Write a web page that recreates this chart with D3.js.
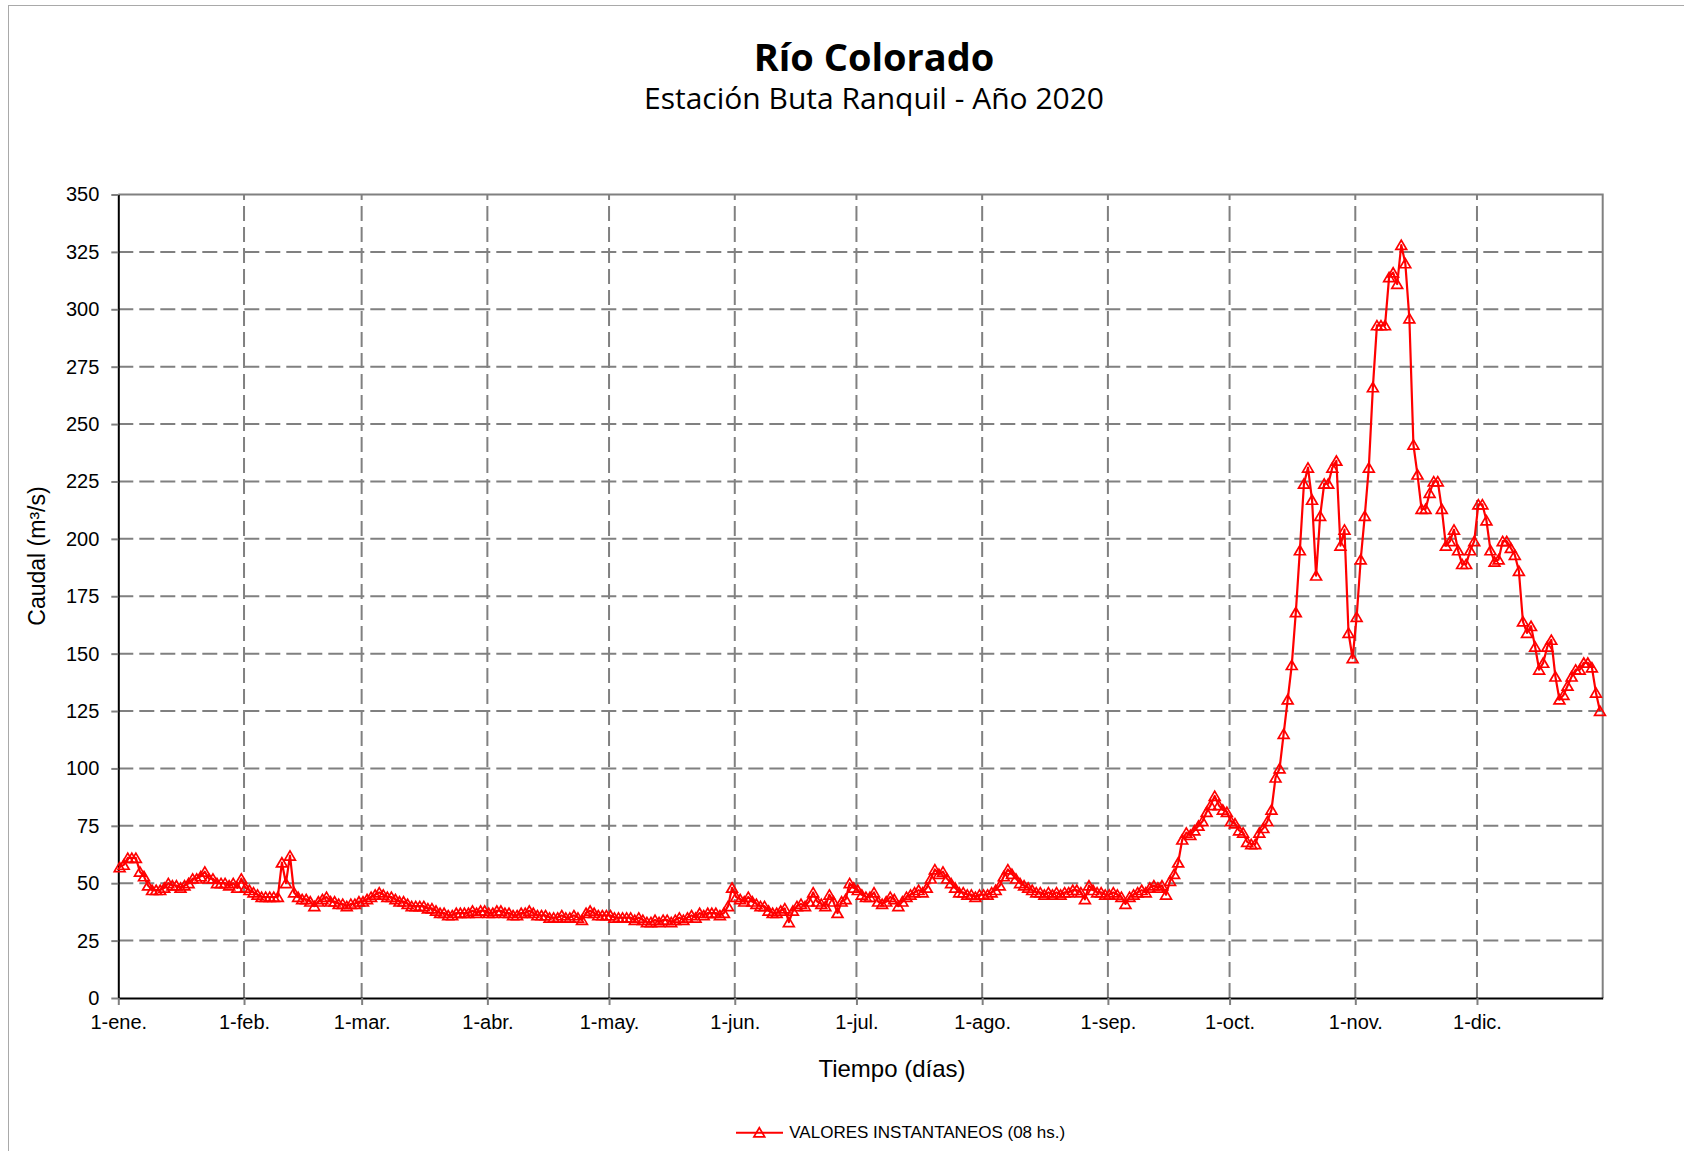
<!DOCTYPE html>
<html><head><meta charset="utf-8">
<script src="https://cdn.jsdelivr.net/npm/d3@7"></script>
<style>
html,body{margin:0;padding:0;background:#fff;}
svg{display:block;}
</style></head><body>
<svg id="chart" width="1684" height="1151"></svg>
<script>
// ---------- data ----------
const chartTitle = "Río Colorado";
const chartSubtitle = "Estación Buta Ranquil - Año 2020";
const xTitle = "Tiempo (días)";
const yTitle = "Caudal (m³/s)";
const seriesName = "VALORES INSTANTANEOS (08 hs.)";
const yTicks = [0,25,50,75,100,125,150,175,200,225,250,275,300,325,350];
const monthLabels = ["1-ene.","1-feb.","1-mar.","1-abr.","1-may.","1-jun.","1-jul.","1-ago.","1-sep.","1-oct.","1-nov.","1-dic."];

// daily values (m3/s) per month, 2020
const ene = [57,58,61,61,61,55,53,49,47,47,47,48,50,49,49,48,49,50,52,52,53,55,52,52,50,50,50,49,50,48,52];
const feb = [48,47,46,45,44,44,44,44,44,59,50,62,46,44,43,43,42,40,42,43,44,42,42,41,41,40,41,41,42];
const mar = [42,43,44,45,46,45,44,44,43,42,42,41,40,40,40,40,39,39,38,37,37,36,36,37,37,37,37,38,37,38,38];
const abr = [37,37,38,38,37,37,36,36,37,37,38,37,36,36,36,35,35,35,36,35,35,36,35,34,37,38,37,36,36,36];
const may = [36,35,35,35,35,35,34,35,34,33,33,34,33,34,34,33,34,35,34,35,36,35,37,36,37,37,37,36,37,40,48];
const jun = [44,43,42,44,42,41,40,40,38,37,37,38,39,33,38,40,41,40,42,46,42,41,40,45,42,37,42,43,50,48];
const jul = [47,45,44,44,46,42,41,42,44,43,40,42,44,45,46,47,46,48,52,56,54,55,52,50,48,46,46,45,45,44,45];
const ago = [45,45,46,47,49,53,56,54,52,50,49,48,47,46,46,45,46,45,46,45,46,46,47,47,46,43,49,47,46,46,45];
const sep = [45,46,45,44,41,44,45,46,47,46,48,49,48,49,45,51,54,59,69,72,71,73,75,77,81,84,88,84,82,81];
const oct = [77,76,73,72,68,67,67,72,74,77,82,96,100,115,130,145,168,195,224,231,217,184,210,224,224,231,234,197,204,159,148];
const nov = [166,191,210,231,266,293,293,293,314,316,311,328,320,296,241,228,213,213,220,225,225,213,197,199,204,195,189,189,195,199];
const dic = [215,215,208,195,190,191,199,199,196,193,186,164,159,162,153,143,146,153,156,140,130,132,136,140,143,143,146,146,144,133,125];

// ---------- chart ----------
const svg = d3.select("#chart");
const FONT = "'Liberation Sans', Arial, sans-serif";
const TFONT = "'Open Sans', sans-serif";
const RED = "#ff0000", GRID = "#808080";

svg.append("rect").attr("x",8.5).attr("y",5.5).attr("width",1700).attr("height",1200)
  .attr("fill","none").attr("stroke","#a9a9a9").attr("stroke-width",1);

const values = [].concat(ene,feb,mar,abr,may,jun,jul,ago,sep,oct,nov,dic);
const data = values.map((v,i)=>({date:new Date(Date.UTC(2020,0,1+i,8)), v}));

const x = d3.scaleUtc().domain([new Date(Date.UTC(2020,0,1)), new Date(Date.UTC(2021,0,1))]).range([118.3,1602.7]);
const y = d3.scaleLinear().domain([0,350]).range([998,194.5]);
const monthTicks = d3.utcMonth.range(new Date(Date.UTC(2020,0,1)), new Date(Date.UTC(2021,0,1)));

const [x0,x1] = x.range(), [y0,y1] = y.range();

// grid
const grid = svg.append("g");
grid.selectAll("line.h").data(yTicks.filter(t=>t>0 && t<350)).join("line")
  .attr("x1",x0).attr("x2",x1).attr("y1",d=>y(d)).attr("y2",d=>y(d))
  .attr("stroke",GRID).attr("stroke-width",2).attr("stroke-dasharray","15,6");
grid.selectAll("line.v").data(monthTicks.slice(1)).join("line")
  .attr("y1",y0).attr("y2",y1).attr("x1",d=>x(d)).attr("x2",d=>x(d))
  .attr("stroke",GRID).attr("stroke-width",2).attr("stroke-dasharray","15,6");
// plot border top/right
svg.append("path").attr("d",`M${x0},${y1}H${x1}V${y0}`).attr("fill","none")
  .attr("stroke",GRID).attr("stroke-width",2);

// axes
const yAxis = svg.append("g").attr("transform",`translate(${x0},0)`)
  .call(d3.axisLeft(y).tickValues(yTicks).tickSize(7).tickSizeOuter(0).tickPadding(12));
const xAxis = svg.append("g").attr("transform",`translate(0,${y0})`)
  .call(d3.axisBottom(x).tickValues(monthTicks).tickFormat((d,i)=>monthLabels[i]).tickSize(7).tickSizeOuter(0).tickPadding(10));
[yAxis,xAxis].forEach(a=>{
  a.select(".domain").attr("stroke","#000").attr("stroke-width",2);
  a.selectAll(".tick line").attr("stroke",GRID).attr("stroke-width",2);
  a.selectAll("text").attr("font-family",FONT).attr("font-size",20).attr("fill","#000");
});

// series
const line = d3.line().x(d=>x(d.date)).y(d=>y(d.v));
svg.append("path").datum(data).attr("d",line).attr("fill","none")
  .attr("stroke",RED).attr("stroke-width",2.2).attr("stroke-linejoin","round");
const tri = "M0,-4.8L5.4,4.4L-5.4,4.4Z";
svg.append("g").selectAll("path").data(data).join("path")
  .attr("d",tri).attr("transform",d=>`translate(${x(d.date)},${y(d.v)})`)
  .attr("fill","none").attr("stroke",RED).attr("stroke-width",1.7);

// titles
svg.append("text").attr("x",874).attr("y",71).attr("text-anchor","middle")
  .attr("font-family",TFONT).attr("font-weight",700).attr("font-size",38).text(chartTitle);
svg.append("text").attr("x",874).attr("y",109).attr("text-anchor","middle")
  .attr("font-family",TFONT).attr("font-size",30).text(chartSubtitle);
svg.append("text").attr("x",892).attr("y",1077).attr("text-anchor","middle")
  .attr("font-family",FONT).attr("font-size",24).text(xTitle);
svg.append("text").attr("transform","translate(45,556) rotate(-90)").attr("text-anchor","middle")
  .attr("font-family",FONT).attr("font-size",23).text(yTitle);

// legend
const lg = svg.append("g");
lg.append("line").attr("x1",736).attr("x2",783).attr("y1",1132.7).attr("y2",1132.7)
  .attr("stroke",RED).attr("stroke-width",2);
lg.append("path").attr("d",tri).attr("transform","translate(759.3,1132.5)")
  .attr("fill","none").attr("stroke",RED).attr("stroke-width",1.7);
lg.append("text").attr("x",789.3).attr("y",1138.3).attr("font-family",FONT)
  .attr("font-size",17).text(seriesName);
</script>
</body></html>
